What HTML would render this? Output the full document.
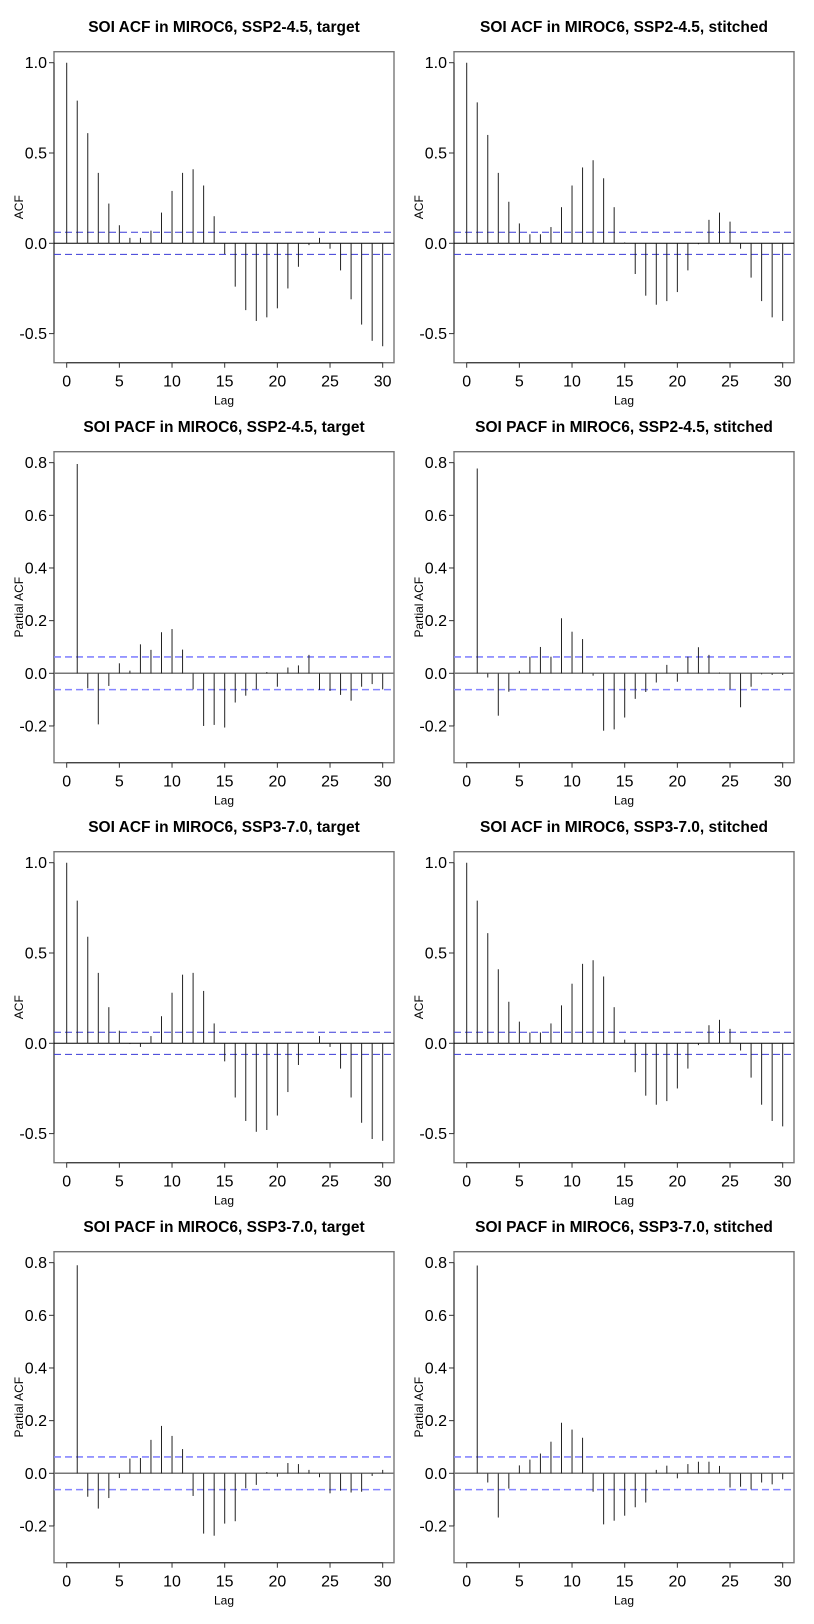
<!DOCTYPE html>
<html><head><meta charset="utf-8"><style>
html,body{margin:0;padding:0;background:#fff;}
svg{display:block;font-family:"Liberation Sans",sans-serif;}
</style></head><body>
<svg id="chart" width="814" height="1624" viewBox="0 0 814 1624" xmlns="http://www.w3.org/2000/svg"></svg>
<script>
const lagsAcf = [0,1,2,3,4,5,6,7,8,9,10,11,12,13,14,15,16,17,18,19,20,21,22,23,24,25,26,27,28,29,30];
const lagsPacf = [1,2,3,4,5,6,7,8,9,10,11,12,13,14,15,16,17,18,19,20,21,22,23,24,25,26,27,28,29,30];
const acf245Target = [1,0.79,0.61,0.39,0.22,0.10,0.03,0.03,0.07,0.17,0.29,0.39,0.41,0.32,0.15,-0.06,-0.24,-0.37,-0.43,-0.41,-0.36,-0.25,-0.13,-0.01,0.03,-0.03,-0.15,-0.31,-0.45,-0.54,-0.57];
const acf245Stitched = [1,0.78,0.60,0.39,0.23,0.11,0.05,0.05,0.09,0.20,0.32,0.42,0.46,0.36,0.20,0.005,-0.17,-0.29,-0.34,-0.32,-0.27,-0.15,-0.005,0.13,0.17,0.12,-0.03,-0.19,-0.32,-0.41,-0.43];
const pacf245Target = [0.795,-0.057,-0.194,-0.048,0.038,0.01,0.11,0.089,0.156,0.168,0.09,-0.061,-0.2,-0.196,-0.206,-0.111,-0.085,-0.061,0.005,-0.051,0.022,0.03,0.07,-0.063,-0.067,-0.082,-0.104,-0.051,-0.041,-0.061];
const pacf245Stitched = [0.778,-0.016,-0.161,-0.07,0.009,0.063,0.1,0.063,0.209,0.158,0.13,-0.009,-0.218,-0.213,-0.168,-0.097,-0.071,-0.035,0.032,-0.032,0.063,0.099,0.07,0.003,-0.061,-0.129,-0.051,-0.004,-0.006,-0.006];
const acf370Target = [1,0.79,0.59,0.39,0.20,0.07,-0.004,-0.02,0.04,0.15,0.28,0.38,0.39,0.29,0.11,-0.10,-0.30,-0.43,-0.49,-0.48,-0.40,-0.27,-0.12,0.0,0.04,-0.02,-0.14,-0.30,-0.44,-0.53,-0.54];
const acf370Stitched = [1,0.79,0.61,0.41,0.23,0.12,0.06,0.06,0.11,0.21,0.33,0.44,0.46,0.37,0.20,0.02,-0.16,-0.29,-0.34,-0.32,-0.25,-0.14,-0.01,0.10,0.13,0.08,-0.04,-0.19,-0.34,-0.43,-0.46];
const pacf370Target = [0.79,-0.089,-0.134,-0.094,-0.018,0.056,0.058,0.127,0.18,0.142,0.092,-0.086,-0.229,-0.237,-0.191,-0.182,-0.057,-0.044,0.005,-0.013,0.039,0.035,0.013,-0.015,-0.076,-0.066,-0.073,-0.07,-0.01,0.013];
const pacf370Stitched = [0.789,-0.035,-0.168,-0.058,0.03,0.052,0.075,0.12,0.192,0.166,0.135,-0.07,-0.194,-0.18,-0.161,-0.129,-0.111,0.013,0.029,-0.019,0.035,0.044,0.044,0.028,-0.054,-0.051,-0.061,-0.035,-0.042,-0.023];
const acfTicks = [1.0,0.5,0.0,-0.5];
const acfTickLabels = ["1.0","0.5","0.0","-0.5"];
const pacfTicks = [0.8,0.6,0.4,0.2,0.0,-0.2];
const pacfTickLabels = ["0.8","0.6","0.4","0.2","0.0","-0.2"];
const xTicks = [0,5,10,15,20,25,30];
const confAcf = 0.061;
const confPacf = 0.062;
const titles = ["SOI ACF in MIROC6, SSP2-4.5, target","SOI ACF in MIROC6, SSP2-4.5, stitched","SOI PACF in MIROC6, SSP2-4.5, target","SOI PACF in MIROC6, SSP2-4.5, stitched","SOI ACF in MIROC6, SSP3-7.0, target","SOI ACF in MIROC6, SSP3-7.0, stitched","SOI PACF in MIROC6, SSP3-7.0, target","SOI PACF in MIROC6, SSP3-7.0, stitched"];

const NS="http://www.w3.org/2000/svg";
const svg=document.getElementById('chart');
function mk(tag,attrs,parent){const e=document.createElementNS(NS,tag);for(const k in attrs)e.setAttribute(k,attrs[k]);parent.appendChild(e);return e;}

function panel(idx,type,lags,vals){
  const col=idx%2,row=Math.floor(idx/2);
  const ox=col*400, oy=20+row*400;
  const g=mk('g',{},svg);
  
  
  const L=ox+54,R=ox+394,T=oy+31.7,B=oy+342.7;
  const xs=l=>ox+66.7+10.533*l;
  const ys=type==='acf'?(v=>oy+223.3-180.6*v):(v=>oy+253.3-263.3*v);
  // title
  const t=mk('text',{x:(L+R)/2,y:oy+12,'text-anchor':'middle','font-size':'15.5','font-weight':'bold',fill:'#000'},g);
  t.textContent=titles[idx];
  
  
  // box
  const box=mk('rect',{x:L,y:T,width:R-L,height:B-T,fill:'none',stroke:'#777','stroke-width':'1.4'},g);
  
  
  // y axis
  const ticks=type==='acf'?acfTicks:pacfTicks, labs=type==='acf'?acfTickLabels:pacfTickLabels;
  const ya=mk('g',{},g);
  
  
  mk('line',{x1:L,x2:L,y1:ys(ticks[0]),y2:ys(ticks[ticks.length-1]),stroke:'#333','stroke-width':'1'},ya);
  ticks.forEach((v,i)=>{
    mk('line',{x1:L-5,x2:L,y1:ys(v),y2:ys(v),stroke:'#333','stroke-width':'1'},ya);
    const tl=mk('text',{x:L-7,y:ys(v)+5.5,'text-anchor':'end','font-size':'16',fill:'#000'},ya);
    tl.textContent=labs[i];
    
    
  });
  const yt=mk('text',{x:0,y:0,'text-anchor':'middle','font-size':'12',fill:'#000',transform:`translate(${ox+23},${(T+B)/2}) rotate(-90)`},g);
  yt.textContent=type==='acf'?'ACF':'Partial ACF';
  
  
  // x axis
  const xa=mk('g',{},g);
  
  
  mk('line',{x1:xs(xTicks[0]),x2:xs(xTicks[xTicks.length-1]),y1:B,y2:B,stroke:'#333','stroke-width':'1'},xa);
  xTicks.forEach(v=>{
    mk('line',{x1:xs(v),x2:xs(v),y1:B,y2:B+5,stroke:'#333','stroke-width':'1'},xa);
    const tl=mk('text',{x:xs(v),y:B+24,'text-anchor':'middle','font-size':'16',fill:'#000'},xa);
    tl.textContent=String(v);
    
    
  });
  const xt=mk('text',{x:(L+R)/2,y:B+42,'text-anchor':'middle','font-size':'12',fill:'#000'},g);
  xt.textContent='Lag';
  
  
  // zero line
  const z=mk('line',{x1:L,x2:R,y1:ys(0),y2:ys(0),stroke:type==='acf'?'#000':'#777','stroke-width':type==='acf'?'1':'1.5'},g);
  
  
  // conf lines
  const c=type==='acf'?confAcf:confPacf;
  [c,-c].forEach(v=>{
    const cl=mk('line',{x1:L,x2:R,y1:ys(v),y2:ys(v),stroke:type==='acf'?'#3a3ad8':'#8585ff','stroke-width':type==='acf'?'1':'1.6','stroke-dasharray':'7,4'},g);
    
    
  });
  // bars
  lags.forEach((l,i)=>{
    const b=mk('line',{x1:xs(l),x2:xs(l),y1:ys(0),y2:ys(vals[i]),stroke:'#222','stroke-width':'1'},g);
    
    
  });
}
panel(0,'acf',lagsAcf,acf245Target);
panel(1,'acf',lagsAcf,acf245Stitched);
panel(2,'pacf',lagsPacf,pacf245Target);
panel(3,'pacf',lagsPacf,pacf245Stitched);
panel(4,'acf',lagsAcf,acf370Target);
panel(5,'acf',lagsAcf,acf370Stitched);
panel(6,'pacf',lagsPacf,pacf370Target);
panel(7,'pacf',lagsPacf,pacf370Stitched);
</script>
</body></html>
